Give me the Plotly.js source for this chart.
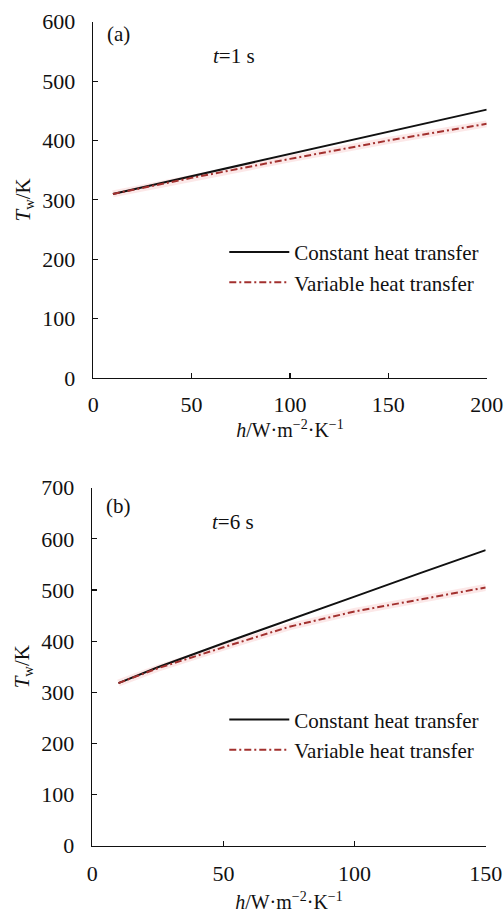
<!DOCTYPE html>
<html>
<head>
<meta charset="utf-8">
<script src="https://cdn.plot.ly/plotly-3.0.1.min.js"></script>
<style>html,body{margin:0;padding:0;background:#fff;}#chart{width:504px;height:913px;}</style>
</head>
<body>
<div id="chart"></div>
<script>
// Panel (a): t = 1 s
const hA = [10, 50, 100, 150, 200];
const constA = [310, 340, 378, 415, 452];
const varA = [310, 337, 369, 400, 428];
// Panel (b): t = 6 s
const hB = [10, 25, 50, 75, 100, 125, 150];
const constB = [318, 349, 396, 441, 487, 533, 578];
const varB = [318, 347, 388, 428, 458, 482, 505];

const xTicksA = [0, 50, 100, 150, 200];
const yTicksA = [0, 100, 200, 300, 400, 500, 600];
const xTicksB = [0, 50, 100, 150];
const yTicksB = [0, 100, 200, 300, 400, 500, 600, 700];

const serif = '"Liberation Serif", "Times New Roman", serif';
const blk = '#111111';
const red = '#a2302e';
const halo = 'rgba(240,150,150,0.22)';
const dashDot = '7px,3px,2px,3px';

const traces = [
  {x: hA, y: varA, xaxis: 'x', yaxis: 'y', mode: 'lines', line: {color: halo, width: 7}, showlegend: false, hoverinfo: 'skip'},
  {x: hA, y: constA, xaxis: 'x', yaxis: 'y', mode: 'lines', name: 'Constant heat transfer', line: {color: blk, width: 2}, legend: 'legend'},
  {x: hA, y: varA, xaxis: 'x', yaxis: 'y', mode: 'lines', name: 'Variable heat transfer', line: {color: red, width: 2, dash: dashDot}, legend: 'legend'},
  {x: hB, y: varB, xaxis: 'x2', yaxis: 'y2', mode: 'lines', line: {color: halo, width: 7}, showlegend: false, hoverinfo: 'skip'},
  {x: hB, y: constB, xaxis: 'x2', yaxis: 'y2', mode: 'lines', name: 'Constant heat transfer', line: {color: blk, width: 2}, legend: 'legend2'},
  {x: hB, y: varB, xaxis: 'x2', yaxis: 'y2', mode: 'lines', name: 'Variable heat transfer', line: {color: red, width: 2, dash: dashDot}, legend: 'legend2'}
];

function xAx(domain, range, ticks, anchor, labStand, titleStand) {
  return {
    domain: domain, range: range, anchor: anchor, tickvals: ticks, ticktext: ticks.map(String),
    showgrid: false, zeroline: false, showline: true, linecolor: blk, linewidth: 1.5,
    ticks: 'inside', ticklen: 5, tickcolor: blk, tickwidth: 1.2, mirror: false,
    tickfont: {family: serif, size: 22, color: blk}, ticklabelstandoff: labStand,
    title: {text: '<i>h</i>/W·m<sup>−2</sup>·K<sup>−1</sup>', font: {family: serif, size: 20, color: blk}, standoff: titleStand}
  };
}
function yAx(domain, range, ticks, anchor) {
  return {
    domain: domain, range: range, anchor: anchor, tickvals: ticks, ticktext: ticks.map(String),
    showgrid: false, zeroline: false, showline: true, linecolor: blk, linewidth: 1.5,
    ticks: 'inside', ticklen: 5, tickcolor: blk, tickwidth: 1.2,
    tickfont: {family: serif, size: 22, color: blk}, ticklabelstandoff: 12,
    title: {text: '<i>T</i><sub>w</sub>/K', font: {family: serif, size: 21, color: blk}, standoff: 6}
  };
}

const legendStyle = (y) => ({
  x: 0.445, y: y, xanchor: 'left', yanchor: 'top', xref: 'paper', yref: 'paper',
  bgcolor: 'rgba(0,0,0,0)', borderwidth: 0, itemwidth: 60, tracegroupgap: 0,
  font: {family: serif, size: 21, color: blk}
});

const layout = {
  width: 504, height: 913,
  margin: {l: 0, r: 0, t: 0, b: 0},
  paper_bgcolor: '#ffffff', plot_bgcolor: '#ffffff',
  showlegend: true,
  xaxis: xAx([0.185, 0.9657], [0, 200], xTicksA, 'y', 6, 6),
  yaxis: yAx([0.586, 0.9762], [0, 600], yTicksA, 'x'),
  xaxis2: xAx([0.183, 0.9637], [0, 150], xTicksB, 'y2', 7, 12),
  yaxis2: yAx([0.0737, 0.4658], [0, 700], yTicksB, 'x2'),
  legend: legendStyle(0.746),
  legend2: legendStyle(0.234),
  annotations: [
    {text: '(a)', xref: 'x domain', yref: 'y domain', x: 0.03, y: 0.965, xanchor: 'left', yanchor: 'middle', showarrow: false, font: {family: serif, size: 21, color: blk}},
    {text: '<i>t</i>=1 s', xref: 'x domain', yref: 'y domain', x: 0.3, y: 0.905, xanchor: 'left', yanchor: 'middle', showarrow: false, font: {family: serif, size: 21, color: blk}},
    {text: '(b)', xref: 'x2 domain', yref: 'y2 domain', x: 0.03, y: 0.948, xanchor: 'left', yanchor: 'middle', showarrow: false, font: {family: serif, size: 21, color: blk}},
    {text: '<i>t</i>=6 s', xref: 'x2 domain', yref: 'y2 domain', x: 0.3, y: 0.904, xanchor: 'left', yanchor: 'middle', showarrow: false, font: {family: serif, size: 21, color: blk}}
  ]
};

Plotly.newPlot('chart', traces, layout, {staticPlot: true, displayModeBar: false});
</script>
</body>
</html>
